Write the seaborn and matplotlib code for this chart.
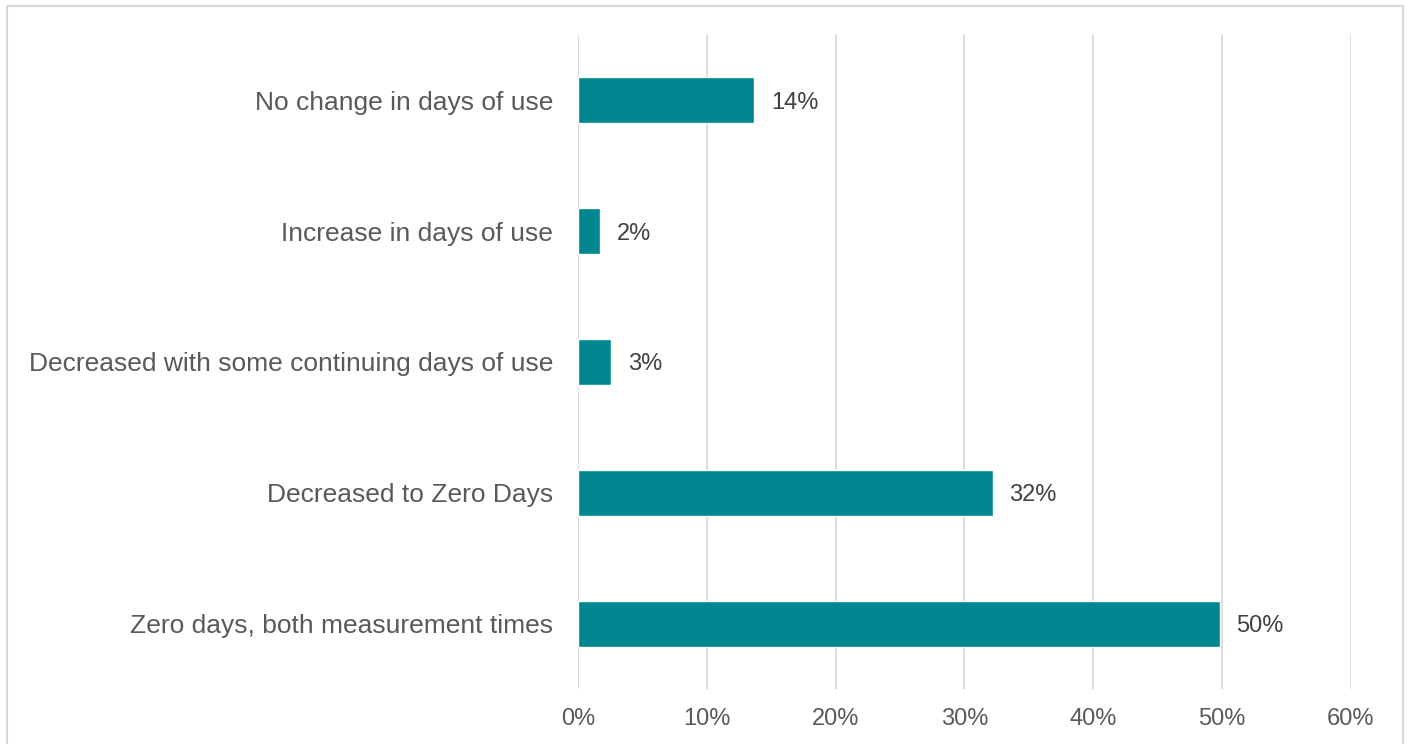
import matplotlib
matplotlib.use("Agg")
import matplotlib.pyplot as plt
import seaborn as sns
import pandas as pd
from matplotlib.patches import Rectangle
from matplotlib.ticker import PercentFormatter

# data
categories = ["No change in days of use",
              "Increase in days of use",
              "Decreased with some continuing days of use",
              "Decreased to Zero Days",
              "Zero days, both measurement times"]
values = [13.7, 1.7, 2.6, 32.2, 49.8]

BAR_COLOR = "#00878F"
GRID_COLOR = "#D9D9D9"
TICK_COLOR = "#595959"
LABEL_COLOR = "#404040"

sns.set_theme(style="white")
plt.rcParams["font.family"] = ["Liberation Sans", "DejaVu Sans"]

df = pd.DataFrame({"category": categories, "value": values})

fig = plt.figure(figsize=(14.08, 7.44), dpi=100)
ax = fig.add_axes([0.4105, 0.0739, 0.549, 0.8791])

sns.barplot(data=df, x="value", y="category", color=BAR_COLOR,
            width=0.35, saturation=1, ax=ax, orient="h")

ax.set_xlim(0, 60)
ax.set_ylim(4.5, -0.5)
ax.set_xticks(range(0, 61, 10))
ax.xaxis.set_major_formatter(PercentFormatter(decimals=0))
ax.grid(axis="x", color=GRID_COLOR, linewidth=1.3)
ax.set_axisbelow(True)
for s in ax.spines.values():
    s.set_visible(False)
ax.set_xlabel("")
ax.set_ylabel("")
ax.tick_params(axis="x", colors=TICK_COLOR, labelsize=17, length=0, pad=14)
ax.tick_params(axis="y", colors=TICK_COLOR, labelsize=19, length=0, pad=18)

# data labels
for i, v in enumerate(values):
    ax.text(v + 1.3, i, f"{v:.0f}%", va="center_baseline", ha="left",
            fontsize=17, color=LABEL_COLOR)

# outer border
fig.patches.append(Rectangle((0.005, -0.02), 0.9915, 1.012, transform=fig.transFigure,
                             fill=False, edgecolor=GRID_COLOR, linewidth=1.5))

fig.savefig("out.png", dpi=100)
